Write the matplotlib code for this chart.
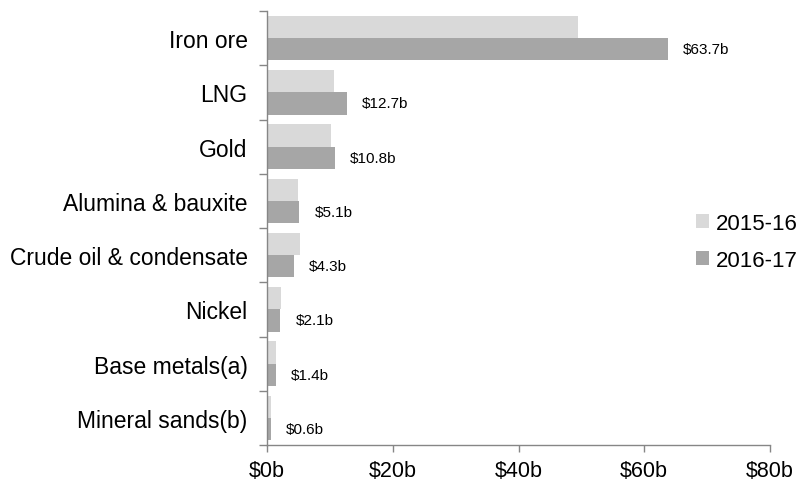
import matplotlib.pyplot as plt
import numpy as np

plt.rcParams['font.family'] = ['Liberation Sans', 'DejaVu Sans']

# data
categories = ['Iron ore', 'LNG', 'Gold', 'Alumina & bauxite',
              'Crude oil & condensate', 'Nickel', 'Base metals(a)',
              'Mineral sands(b)']
vals_1516 = [49.5, 10.7, 10.2, 4.9, 5.3, 2.2, 1.4, 0.6]
vals_1617 = [63.7, 12.7, 10.8, 5.1, 4.3, 2.1, 1.4, 0.6]
labels_1617 = ['$63.7b', '$12.7b', '$10.8b', '$5.1b', '$4.3b', '$2.1b',
               '$1.4b', '$0.6b']
series_names = ['2015-16', '2016-17']
x_ticks = [0, 20, 40, 60, 80]
x_ticklabels = ['$0b', '$20b', '$40b', '$60b', '$80b']

light = '#d9d9d9'
dark = '#a6a6a6'
spine_col = '#868686'

fig = plt.figure(figsize=(7.96, 4.89), dpi=100)
ax = fig.add_axes([267 / 796, 1 - 446 / 489, (770 - 267) / 796, (446 - 12) / 489])

y = np.arange(len(categories))
h = 0.41
b1 = ax.barh(y - h / 2, vals_1516, height=h, color=light, label=series_names[0])
b2 = ax.barh(y + h / 2, vals_1617, height=h, color=dark, label=series_names[1])

# value labels next to 2016-17 bars
for yy, v, lab in zip(y, vals_1617, labels_1617):
    ax.annotate(lab, xy=(v, yy + h / 2), xytext=(11, 0), textcoords='offset points',
                ha='left', va='center', fontsize=11, color='black')

ax.set_xlim(0, 80)
ax.set_ylim(len(categories) - 0.5, -0.5)

# axis styling
for s in ['top', 'right']:
    ax.spines[s].set_visible(False)
for s in ['left', 'bottom']:
    ax.spines[s].set_color(spine_col)
    ax.spines[s].set_linewidth(1.0)

ax.set_xticks(x_ticks)
ax.set_xticklabels(x_ticklabels, fontsize=15.5)
ax.tick_params(axis='x', length=5, width=1.0, color=spine_col, pad=6)

ax.set_yticks(y)
ax.set_yticklabels(categories, fontsize=16.5)
ax.set_yticks(np.arange(-0.5, len(categories), 1.0), minor=True)
ax.tick_params(axis='y', which='major', length=0, pad=14)
ax.tick_params(axis='y', which='minor', length=5.5, width=1.0, color=spine_col)

# legend, sits partly off the right edge like the original
leg = fig.legend(handles=[b1, b2], loc='center left',
                 bbox_to_anchor=(696 / 796, 1 - 243 / 489),
                 frameon=False, fontsize=16, borderpad=0, borderaxespad=0,
                 handlelength=0.6, handleheight=0.6, handletextpad=0.3,
                 labelspacing=0.7)

fig.savefig('out.png', dpi=100)
